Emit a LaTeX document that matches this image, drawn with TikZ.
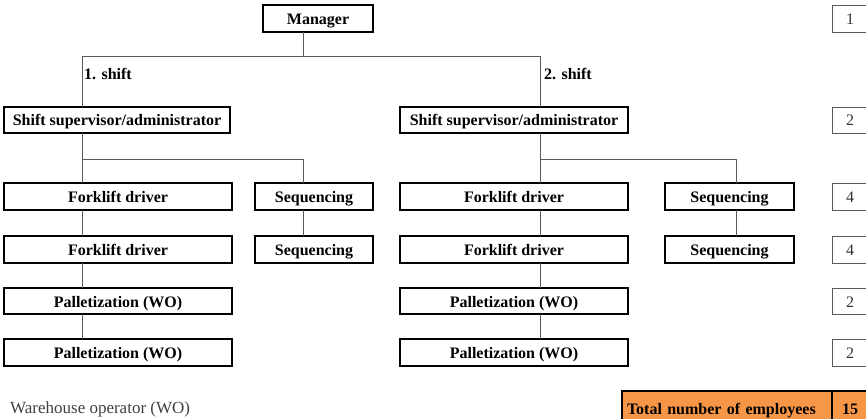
\documentclass[tikz,border=0pt]{standalone}
\usepackage{fontspec}
\setmainfont{Liberation Serif}
\usetikzlibrary{positioning}
\definecolor{totalorange}{RGB}{247,150,70}
\definecolor{linkgray}{RGB}{90,90,90}
\tikzset{
    unit/.style={draw, line width=1.6pt, outer sep=0pt, inner sep=0pt,
        minimum height=26pt, text height=13pt, text depth=1pt,
        font=\fontsize{16}{18}\selectfont\bfseries},
    count/.style={draw=linkgray, line width=0.9pt, outer sep=0pt, inner sep=0pt,
        minimum width=36pt, minimum height=26pt, text height=13pt, text depth=1pt,
        text=black!80, font=\fontsize{16}{18}\selectfont},
    shiftlabel/.style={anchor=west, inner sep=0pt, font=\fontsize{16}{18}\selectfont\bfseries},
    link/.style={draw=linkgray, line width=1pt},
}

\begin{document}
\begin{tikzpicture}[x=1pt, y=-1pt]
    \useasboundingbox (0,0) rectangle (866,419);
    \node [unit, minimum width=110pt, minimum height=27pt] (mgr) at (318,18.5) {Manager};

    \node [unit, minimum width=226pt] (sup1) at (117,120) {Shift supervisor/administrator};
    \node [unit, minimum width=228pt, right=170pt of sup1] (sup2) {Shift supervisor/administrator};

    \node [unit, minimum width=228pt, minimum height=27pt] (fl1) at (118,196.5) {Forklift driver};
    \node [unit, minimum width=228pt, minimum height=27pt, below=26pt of fl1] (fl2) {Forklift driver};
    \node [unit, minimum width=228pt, below=25pt of fl2] (pl1) {Palletization (WO)};
    \node [unit, minimum width=228pt, minimum height=27pt, below=25pt of pl1] (pl2) {Palletization (WO)};
    \node [unit, minimum width=118pt, minimum height=27pt, right=23pt of fl1] (sq1) {Sequencing};
    \node [unit, minimum width=118pt, minimum height=27pt, below=26pt of sq1] (sq2) {Sequencing};

    \node [unit, minimum width=228pt, minimum height=27pt, right=168pt of fl1] (fr1) {Forklift driver};
    \node [unit, minimum width=228pt, minimum height=27pt, below=26pt of fr1] (fr2) {Forklift driver};
    \node [unit, minimum width=228pt, below=25pt of fr2] (pr1) {Palletization (WO)};
    \node [unit, minimum width=228pt, minimum height=27pt, below=25pt of pr1] (pr2) {Palletization (WO)};
    \node [unit, minimum width=129pt, minimum height=27pt, right=37pt of fr1] (sr1) {Sequencing};
    \node [unit, minimum width=129pt, minimum height=27pt, below=26pt of sr1] (sr2) {Sequencing};

    \node [count, minimum height=27pt] (n1) at (850,18.5) {1};
    \node [count] (n2) at (850,120) {2};
    \node [count, minimum height=27pt] (n3) at (850,196.5) {4};
    \node [count, minimum height=27pt] (n4) at (850,249.5) {4};
    \node [count] (n5) at (850,301) {2};
    \node [count, minimum height=27pt] (n6) at (850,352.5) {2};

    \node [unit, fill=totalorange, anchor=north west, minimum height=34pt,
        text width=200pt, inner xsep=5pt, align=left] (total) at (622,391) {Total number of employees};
    \node [unit, fill=totalorange, minimum width=36pt, minimum height=34pt, right=0pt of total] (sum) {15};

    \node [shiftlabel] (shift1) at (84,74) {1. shift};
    \node [shiftlabel] (shift2) at (544,74) {2. shift};
    \node [anchor=west, inner sep=0pt, text=black!75, font=\fontsize{17}{20}\selectfont] (note) at (10,409) {Warehouse operator (WO)};

    \coordinate (top) at (303,57);
    \coordinate (trunk1) at (82,57);
    \coordinate (trunk2) at (540,57);
    \coordinate (fork1) at (82,160);
    \coordinate (fork1s) at (303,160);
    \coordinate (fork2) at (540,160);
    \coordinate (fork2s) at (736,160);

    \draw [link] (mgr.south -| top) -- (top);
    \draw [link] (sup1.north -| trunk1) -- (trunk1) -- (trunk2) -- (sup2.north -| trunk2);

    \draw [link] (sup1.south -| fork1) -- (fl1.north -| fork1);
    \draw [link] (fork1) -- (fork1s) -- (sq1.north -| fork1s);
    \draw [link] (fl1.south -| fork1) -- (fl2.north -| fork1);
    \draw [link] (fl2.south -| fork1) -- (pl1.north -| fork1);
    \draw [link] (pl1.south -| fork1) -- (pl2.north -| fork1);
    \draw [link] (sq1.south -| fork1s) -- (sq2.north -| fork1s);

    \draw [link] (sup2.south -| fork2) -- (fr1.north -| fork2);
    \draw [link] (fork2) -- (fork2s) -- (sr1.north -| fork2s);
    \draw [link] (fr1.south -| fork2) -- (fr2.north -| fork2);
    \draw [link] (fr2.south -| fork2) -- (pr1.north -| fork2);
    \draw [link] (pr1.south -| fork2) -- (pr2.north -| fork2);
    \draw [link] (sr1.south -| fork2s) -- (sr2.north -| fork2s);
\end{tikzpicture}
\end{document}
